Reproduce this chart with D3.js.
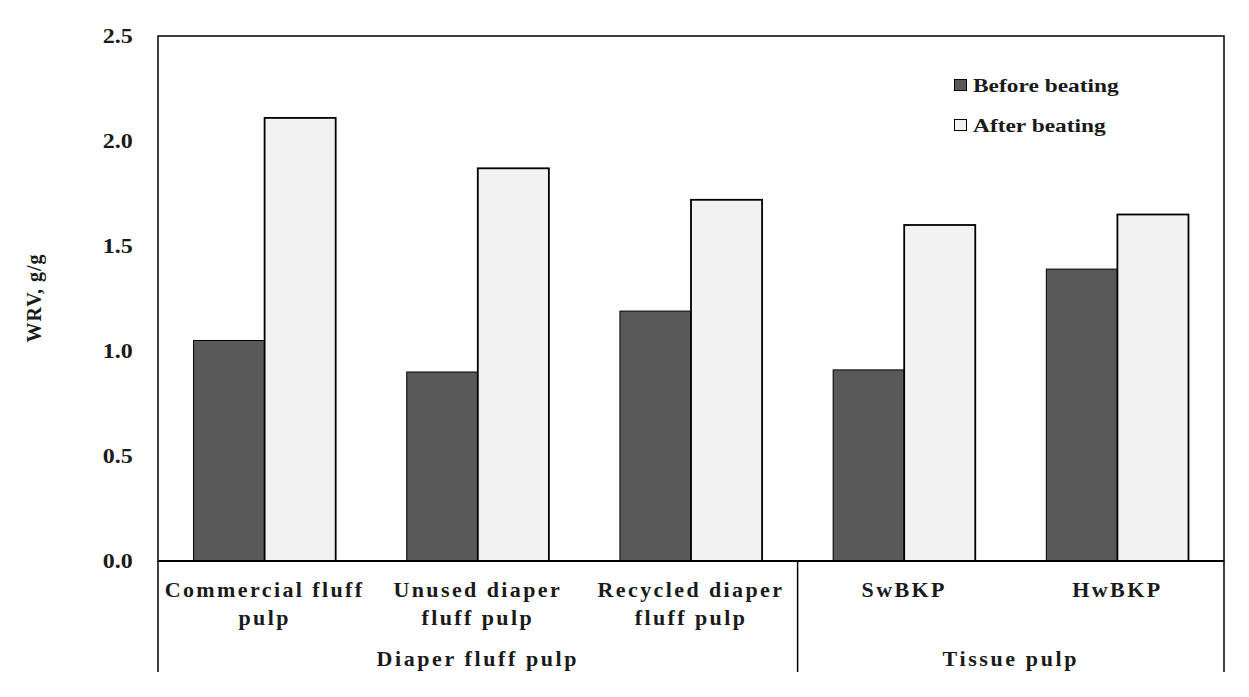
<!DOCTYPE html>
<html><head><meta charset="utf-8">
<script src="https://cdn.jsdelivr.net/npm/d3@7/dist/d3.min.js"></script>
<style>body{margin:0;background:#fff;} text{font-family:"Liberation Serif","Times New Roman",serif;font-weight:bold;fill:#1a1a1a;}</style>
</head><body>
<svg id="c" width="1249" height="697"></svg>
<script>
const categories = ["Commercial fluff|pulp","Unused diaper|fluff pulp","Recycled diaper|fluff pulp","SwBKP","HwBKP"];
const seriesNames = ["Before beating","After beating"];
const before = [1.05, 0.90, 1.19, 0.91, 1.39];
const after = [2.11, 1.87, 1.72, 1.60, 1.65];
const groups = [{name:"Diaper fluff pulp", from:0, to:3},{name:"Tissue pulp", from:3, to:5}];
const yTicks = [0,0.5,1.0,1.5,2.0,2.5];
const colors = ["#595959","#f2f2f2"];

const svg = d3.select("#c");
const L=158, R=1224, T=36, B=561, Bottom=672;
const x = d3.scaleBand().domain(d3.range(categories.length)).range([L,R]);
const xs = d3.scaleBand().domain([0,1]).range([0, x.bandwidth()]).paddingOuter(0.5).paddingInner(0);
const y = d3.scaleLinear().domain([0,2.5]).range([B,T]);

// bars
const series=[before,after];
series.forEach((vals,si)=>{
  svg.append("g").selectAll("rect").data(vals).join("rect")
    .attr("x",(d,i)=>x(i)+xs(si)).attr("width",xs.bandwidth())
    .attr("y",d=>y(d)).attr("height",d=>B-y(d))
    .attr("fill",colors[si]).attr("stroke","#000").attr("stroke-width",si?1.8:1);
});

// frame
svg.append("rect").attr("x",L).attr("y",T).attr("width",R-L).attr("height",B-T).attr("fill","none").attr("stroke","#000").attr("stroke-width",1.5);
svg.append("line").attr("x1",L).attr("x2",R).attr("y1",B).attr("y2",B).attr("stroke","#000").attr("stroke-width",2);
const seps=[L, x(3), R];
seps.forEach(sx=>svg.append("line").attr("x1",sx).attr("x2",sx).attr("y1",B).attr("y2",Bottom).attr("stroke","#000").attr("stroke-width",1.5));

// y axis (no tick marks)
const yAxis = d3.axisLeft(y).tickValues(yTicks).tickFormat(d3.format(".1f")).tickSize(0);
const ga = svg.append("g").attr("transform",`translate(${L},0)`).call(yAxis);
ga.select(".domain").remove();
ga.selectAll("text").attr("x",-21).attr("dy","0.3em").attr("transform","scale(1.2,1)")
  .attr("font-size",20).style("font-family","Liberation Serif").style("font-weight","bold").attr("fill","#1a1a1a");

svg.append("text").attr("transform","translate(41,298) rotate(-90)").attr("text-anchor","middle")
  .attr("font-size",20).style("letter-spacing","1px").text("WRV, g/g");

// category labels
categories.forEach((c,i)=>{
  const lines=c.split("|");
  lines.forEach((ln,j)=>{
    svg.append("text").attr("x",x(i)+x.bandwidth()/2).attr("y",597+j*28).attr("text-anchor","middle")
      .attr("font-size",22).style("letter-spacing","2.4px").text(ln);
  });
});
groups.forEach(g=>{
  svg.append("text").attr("x",(x(g.from)+x(g.to-1)+x.bandwidth())/2).attr("y",666).attr("text-anchor","middle")
    .attr("font-size",22).style("letter-spacing","2.6px").text(g.name);
});

// legend
seriesNames.forEach((n,i)=>{
  svg.append("rect").attr("x",954.5).attr("y",79.5+i*40).attr("width",12).attr("height",11)
    .attr("fill",colors[i]).attr("stroke","#000").attr("stroke-width",1);
  svg.append("text").attr("transform",`translate(973,${92+i*40}) scale(1.3,1)`).attr("font-size",18).text(n);
});
</script>
</body></html>
